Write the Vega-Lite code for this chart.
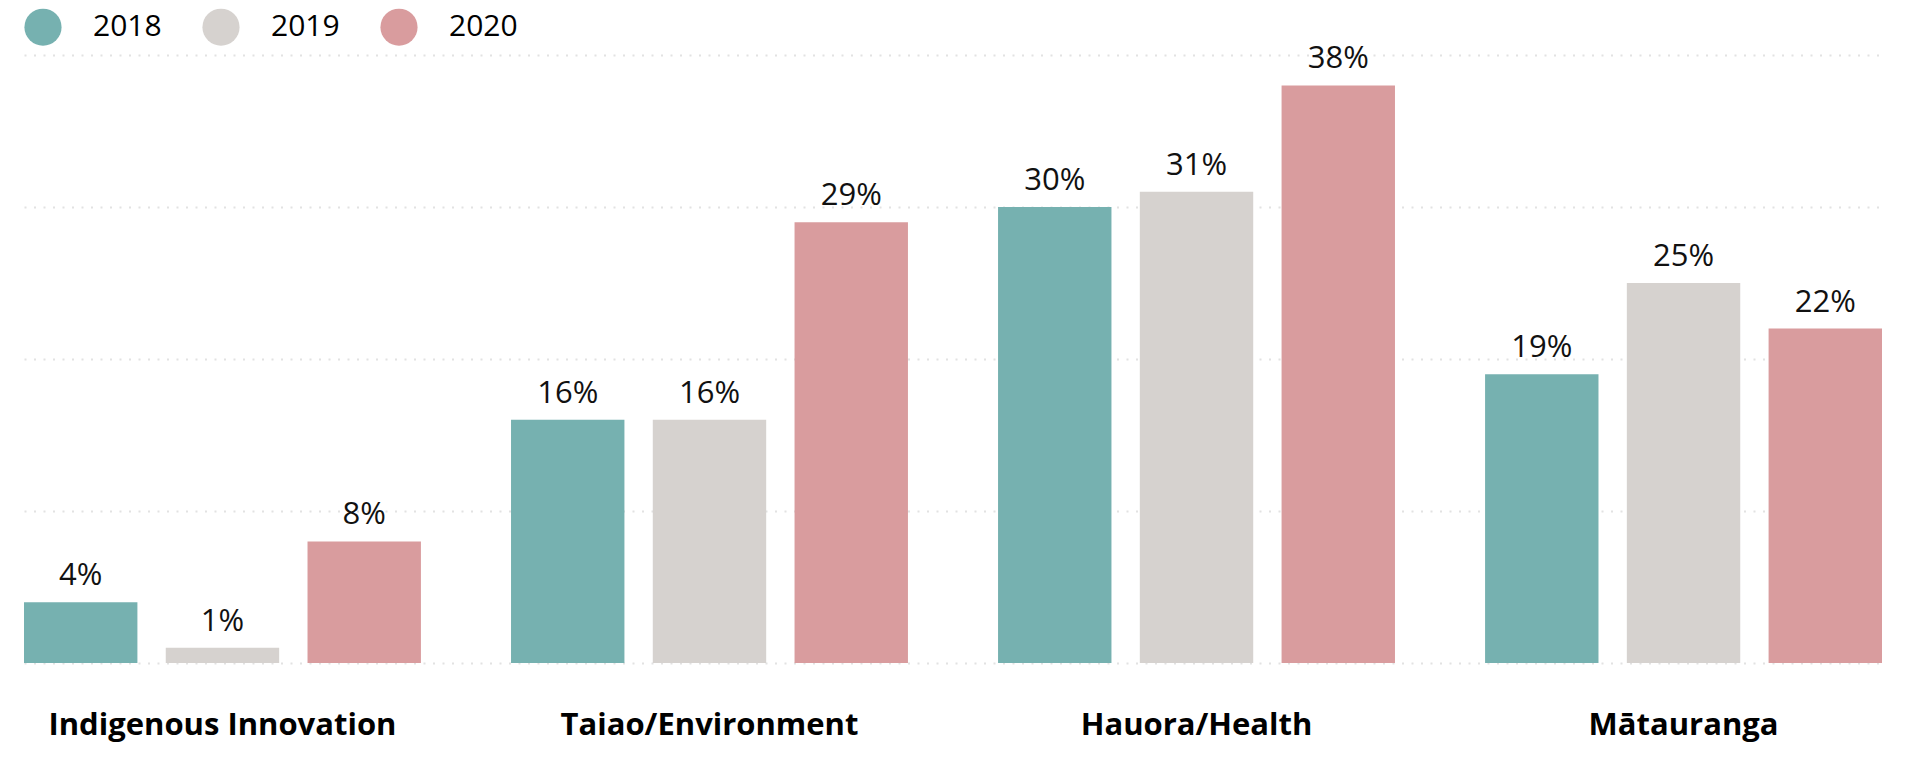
{
  "$schema": "https://vega.github.io/schema/vega-lite/v6.json",
  "width": 1858,
  "height": 608,
  "autosize": {"type": "none"},
  "padding": {"left": 24, "top": 55, "right": 37, "bottom": 113},
  "background": "#ffffff",
  "config": {"view": {"stroke": null}},
  "data": {
    "values": [
      {"category": "Indigenous Innovation", "year": "2018", "value": 0.04},
      {"category": "Indigenous Innovation", "year": "2019", "value": 0.01},
      {"category": "Indigenous Innovation", "year": "2020", "value": 0.08},
      {"category": "Taiao/Environment", "year": "2018", "value": 0.16},
      {"category": "Taiao/Environment", "year": "2019", "value": 0.16},
      {"category": "Taiao/Environment", "year": "2020", "value": 0.29},
      {"category": "Hauora/Health", "year": "2018", "value": 0.30},
      {"category": "Hauora/Health", "year": "2019", "value": 0.31},
      {"category": "Hauora/Health", "year": "2020", "value": 0.38},
      {"category": "Mātauranga", "year": "2018", "value": 0.19},
      {"category": "Mātauranga", "year": "2019", "value": 0.25},
      {"category": "Mātauranga", "year": "2020", "value": 0.22}
    ]
  },
  "encoding": {
    "x": {
      "field": "category",
      "type": "nominal",
      "sort": null,
      "title": null,
      "scale": {"paddingInner": 0.185, "paddingOuter": 0},
      "axis": {
        "domain": false,
        "ticks": false,
        "tickSize": 0,
        "grid": false,
        "labelAngle": 0,
        "labelLimit": 0,
        "labelFont": "Open Sans",
        "labelFontWeight": "bold",
        "labelFontSize": 31,
        "labelColor": "#000000",
        "labelBaseline": "alphabetic",
        "labelPadding": 71
      }
    },
    "xOffset": {
      "field": "year",
      "type": "nominal",
      "scale": {"paddingInner": 0.2, "paddingOuter": 0}
    },
    "y": {
      "field": "value",
      "type": "quantitative",
      "title": null,
      "scale": {"domain": [0, 0.4], "nice": false, "zero": true},
      "axis": {
        "values": [0, 0.1, 0.2, 0.3, 0.4],
        "domain": false,
        "ticks": false,
        "labels": false,
        "grid": true,
        "gridColor": "#e2e2e2",
        "gridWidth": 2,
        "gridDash": [2, 7.5]
      }
    }
  },
  "layer": [
    {
      "mark": {"type": "bar"},
      "encoding": {
        "color": {
          "field": "year",
          "type": "nominal",
          "scale": {"domain": ["2018", "2019", "2020"], "range": ["#76b1b0", "#d6d2cf", "#d99c9e"]},
          "legend": {
            "title": null,
            "orient": "none",
            "direction": "horizontal",
            "legendX": 0,
            "legendY": -47,
            "padding": 0,
            "symbolType": "circle",
            "symbolSize": 1380,
            "symbolStrokeWidth": 0,
            "symbolOpacity": 1,
            "labelFont": "Open Sans",
            "labelFontSize": 30,
            "labelColor": "#000000",
            "labelOffset": 31,
            "columnPadding": 40
          }
        }
      }
    },
    {
      "mark": {
        "type": "text",
        "baseline": "alphabetic",
        "dy": -17,
        "font": "Open Sans",
        "fontSize": 31,
        "color": "#111111"
      },
      "encoding": {
        "text": {"field": "value", "type": "quantitative", "format": ".0%"}
      }
    }
  ]
}
